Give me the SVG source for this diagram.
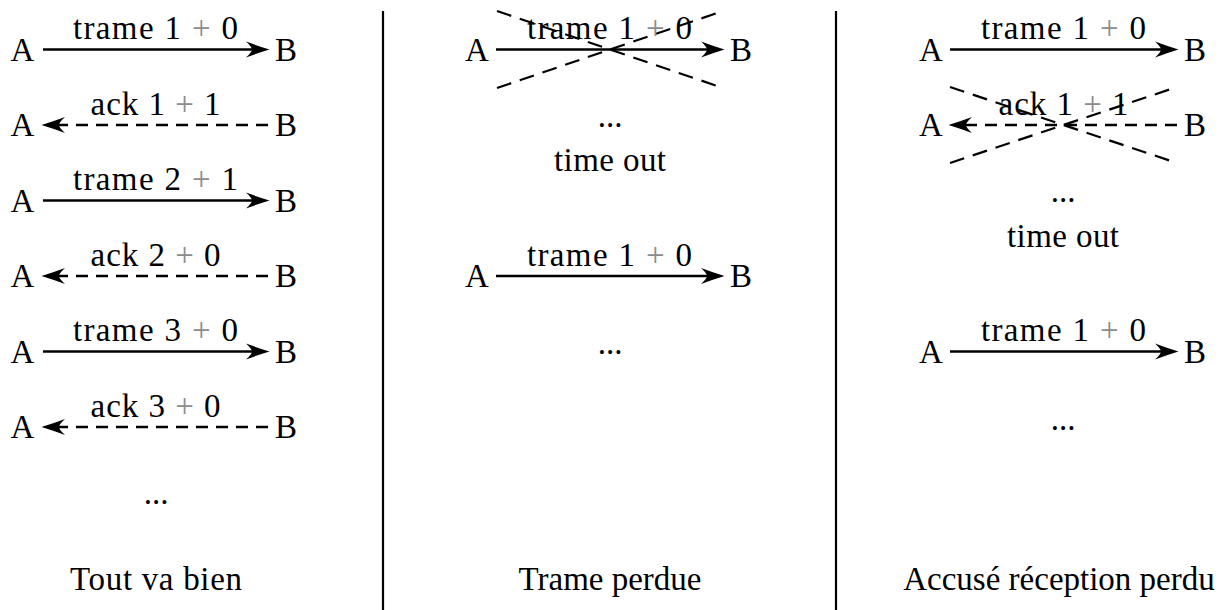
<svg xmlns="http://www.w3.org/2000/svg" width="1227" height="610" viewBox="0 0 1227 610">
<style>
text{font-family:"Liberation Serif","Times New Roman",serif;font-size:33px;fill:#000;text-anchor:middle}
.g{fill:#8c8c8c}
.solid{stroke:#000;stroke-width:2.5;fill:none}
.dash{stroke:#000;stroke-width:2.5;fill:none;stroke-dasharray:12 8}
.cross{stroke:#000;stroke-width:2.2;fill:none;stroke-dasharray:15 9}
.sep{stroke:#000;stroke-width:2.2}
</style>
<defs>
<path id="ah" d="M1.5,0 Q-10,-3.5 -22,-8 Q-16,-2.5 -16,0 Q-16,2.5 -22,8 Q-10,3.5 1.5,0 Z" fill="#000"/>
</defs>
<rect width="1227" height="610" fill="#fff"/>
<g id="separators">
<line class="sep" x1="383" y1="11" x2="383" y2="610"/>
<line class="sep" x1="836" y1="11" x2="836" y2="610"/>
</g>
<g id="connectors">
<line class="solid" x1="43" y1="49.5" x2="254" y2="49.5"/><use href="#ah" x="268" y="49.5"/>
<path class="dash" d="M268,125 L56,125"/><use href="#ah" transform="translate(43,125) rotate(180)"/>
<line class="solid" x1="43" y1="200.5" x2="254" y2="200.5"/><use href="#ah" x="268" y="200.5"/>
<path class="dash" d="M268,276 L56,276"/><use href="#ah" transform="translate(43,276) rotate(180)"/>
<line class="solid" x1="43" y1="351.5" x2="254" y2="351.5"/><use href="#ah" x="268" y="351.5"/>
<path class="dash" d="M268,427 L56,427"/><use href="#ah" transform="translate(43,427) rotate(180)"/>
<line class="solid" x1="496" y1="49.5" x2="709" y2="49.5"/><use href="#ah" x="723" y="49.5"/>
<line class="cross" x1="497" y1="11" x2="723" y2="88"/>
<line class="cross" x1="497" y1="88" x2="723" y2="11"/>
<line class="solid" x1="496" y1="276" x2="709" y2="276"/><use href="#ah" x="723" y="276"/>
<line class="solid" x1="950" y1="49.5" x2="1163" y2="49.5"/><use href="#ah" x="1177" y="49.5"/>
<path class="dash" d="M1177,125 L963,125"/><use href="#ah" transform="translate(950,125) rotate(180)"/>
<line class="cross" x1="950" y1="87" x2="1177" y2="163"/>
<line class="cross" x1="950" y1="163" x2="1177" y2="87"/>
<line class="solid" x1="950" y1="351.5" x2="1163" y2="351.5"/><use href="#ah" x="1177" y="351.5"/>
</g>
<g id="col1">
<g id="c1r1"><text x="22.5" y="60.5">A</text><text x="286" y="60.5">B</text><text x="155.5" y="39" textLength="165" lengthAdjust="spacing">trame 1 <tspan class="g">+</tspan> 0</text></g>
<g id="c1r2"><text x="22.5" y="136">A</text><text x="286" y="136">B</text><text x="155.5" y="115" textLength="130" lengthAdjust="spacing">ack 1 <tspan class="g">+</tspan> 1</text></g>
<g id="c1r3"><text x="22.5" y="211.5">A</text><text x="286" y="211.5">B</text><text x="155.5" y="190" textLength="165" lengthAdjust="spacing">trame 2 <tspan class="g">+</tspan> 1</text></g>
<g id="c1r4"><text x="22.5" y="287">A</text><text x="286" y="287">B</text><text x="155.5" y="266" textLength="130" lengthAdjust="spacing">ack 2 <tspan class="g">+</tspan> 0</text></g>
<g id="c1r5"><text x="22.5" y="362.5">A</text><text x="286" y="362.5">B</text><text x="155.5" y="341" textLength="165" lengthAdjust="spacing">trame 3 <tspan class="g">+</tspan> 0</text></g>
<g id="c1r6"><text x="22.5" y="438">A</text><text x="286" y="438">B</text><text x="155.5" y="417" textLength="130" lengthAdjust="spacing">ack 3 <tspan class="g">+</tspan> 0</text></g>
<text x="156" y="504">...</text>
<text x="156" y="590" textLength="172" lengthAdjust="spacing">Tout va bien</text>
</g>
<g id="col2">
<g id="c2r1"><text x="477" y="60.5">A</text><text x="741" y="60.5">B</text><text x="609.5" y="39" textLength="165" lengthAdjust="spacing">trame 1 <tspan class="g">+</tspan> 0</text></g>
<text x="610" y="127">...</text>
<text x="610" y="171" textLength="112" lengthAdjust="spacing">time out</text>
<g id="c2r2"><text x="477" y="287">A</text><text x="741" y="287">B</text><text x="609.5" y="266" textLength="165" lengthAdjust="spacing">trame 1 <tspan class="g">+</tspan> 0</text></g>
<text x="610" y="354">...</text>
<text x="610" y="590">Trame perdue</text>
</g>
<g id="col3">
<g id="c3r1"><text x="931" y="60.5">A</text><text x="1195" y="60.5">B</text><text x="1063.5" y="39" textLength="165" lengthAdjust="spacing">trame 1 <tspan class="g">+</tspan> 0</text></g>
<g id="c3r2"><text x="931" y="136">A</text><text x="1195" y="136">B</text><text x="1063.5" y="115" textLength="130" lengthAdjust="spacing">ack 1 <tspan class="g">+</tspan> 1</text></g>
<text x="1063" y="202">...</text>
<text x="1063" y="247" textLength="112" lengthAdjust="spacing">time out</text>
<g id="c3r3"><text x="931" y="362.5">A</text><text x="1195" y="362.5">B</text><text x="1063.5" y="341" textLength="165" lengthAdjust="spacing">trame 1 <tspan class="g">+</tspan> 0</text></g>
<text x="1063" y="430">...</text>
<text x="1059" y="590">Accusé réception perdu</text>
</g>
</svg>
